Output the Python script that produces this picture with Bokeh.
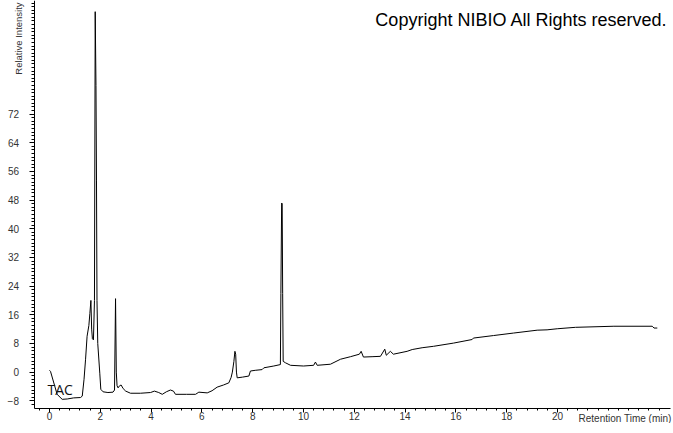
import math
from bokeh.plotting import figure
from bokeh.models import Range1d, FixedTicker, Label
from bokeh.embed import file_html
from bokeh.resources import INLINE

# Retention time (min) and relative intensity
rt = [0.00, 0.04, 0.30, 0.50, 0.70, 0.95, 1.22, 1.29, 1.36, 1.42, 1.48, 1.55, 1.59, 1.63,
      1.66, 1.69, 1.73, 1.77, 1.80, 1.83, 1.85, 1.87, 1.90, 1.98, 2.02, 2.11, 2.30, 2.50,
      2.56, 2.60, 2.63, 2.66, 2.70, 2.76, 2.82, 2.90, 3.00, 3.19, 3.58, 3.98, 4.13, 4.30,
      4.44, 4.60, 4.76, 4.88, 4.96, 5.40, 5.75, 5.88, 6.21, 6.40, 6.60, 6.85, 7.06, 7.15,
      7.20, 7.26, 7.30, 7.33, 7.36, 7.39, 7.60, 7.85, 7.91, 8.10, 8.37, 8.44, 8.83, 9.09,
      9.11, 9.14, 9.16, 9.18, 9.20, 9.29, 9.49, 10.00, 10.40, 10.47, 10.54, 11.06, 11.46,
      11.85, 12.20, 12.27, 12.36, 12.70, 13.03, 13.20, 13.26, 13.42, 13.54, 14.08, 14.28,
      14.67, 15.12, 15.91, 16.64, 16.69, 17.48, 18.27, 19.20, 19.59, 19.99, 20.71, 22.22,
      23.73, 23.80, 23.93]
intensity = [0.5, 0.2, -6.2, -7.6, -7.5, -7.2, -7.1, -6.7, -2.0, 3.6, 10.0, 13.0, 16.4, 20.0,
             12.0, 9.3, 9.0, 20.0, 100.6, 80.0, 53.6, 20.0, 8.0, -0.3, -4.8, -5.5, -5.7, -5.6,
             -5.0, 20.5, 0.0, -3.8, -4.4, -3.8, -3.6, -4.6, -5.3, -5.9, -5.9, -5.7, -5.3, -5.7,
             -6.2, -5.5, -5.0, -5.3, -6.2, -6.2, -6.2, -5.6, -5.8, -5.2, -4.2, -3.6, -3.0, -1.5,
             0.0, 3.0, 5.8, 5.0, 0.0, -1.6, -1.4, -1.1, 0.3, 0.5, 0.7, 1.2, 1.7, 2.1,
             22.0, 47.2, 47.0, 22.0, 3.0, 2.6, 1.9, 1.7, 1.9, 2.8, 1.9, 2.2, 3.6,
             4.3, 5.0, 5.8, 4.2, 4.3, 4.4, 6.4, 4.7, 5.8, 5.0, 5.8, 6.3,
             6.8, 7.2, 8.1, 9.1, 9.5, 10.2, 10.9, 11.7, 11.8, 12.1, 12.5, 12.8,
             12.8, 12.3, 12.3]

x_major = [0, 2, 4, 6, 8, 10, 12, 14, 16, 18, 20]
x_minor = [round(-0.4 + 0.4 * i, 2) for i in range(62)]
y_major = [-8, 0, 8, 16, 24, 32, 40, 48, 56, 64, 72]
y_minor = list(range(-9, 104))

FONT = "Liberation Sans"
X_AXIS_AT = -10.02   # intensity where the time axis sits
Y_AXIS_AT = -0.61    # time where the intensity axis sits
X_END = 24.45
Y_END = 103.7

p = figure(width=672, height=423, output_backend="svg", toolbar_location=None,
           x_range=Range1d(-1.929, 24.528), y_range=Range1d(-14.345, 103.72),
           min_border_left=0, min_border_right=0, min_border_top=0, min_border_bottom=0)
p.outline_line_color = None
p.grid.visible = False
p.background_fill_color = "white"
p.border_fill_color = "white"

p.line(rt, intensity, line_color="black", line_width=1)

xa, ya = p.xaxis[0], p.yaxis[0]
xa.fixed_location = X_AXIS_AT
ya.fixed_location = Y_AXIS_AT
xa.bounds = (Y_AXIS_AT, X_END)
ya.bounds = (X_AXIS_AT, Y_END)
for ax, major, minor in ((xa, x_major, x_minor), (ya, y_major, y_minor)):
    ax.ticker = FixedTicker(ticks=major, minor_ticks=minor)
    ax.axis_line_color = "black"
    ax.axis_line_width = 1
    ax.major_tick_line_color = "black"
    ax.minor_tick_line_color = "black"
    ax.major_tick_in = 0
    ax.minor_tick_in = 0
    ax.major_tick_out = 5
    ax.minor_tick_out = 3
    ax.major_label_text_font = FONT
    ax.major_label_text_font_size = "10px"
    ax.major_label_text_color = "#333333"
xa.major_tick_out = 4
xa.minor_tick_out = 2
xa.major_label_standoff = 0
ya.major_label_standoff = 10

p.add_layout(Label(x=24.33, y=98.2, text="Copyright NIBIO All Rights reserved.",
                   text_align="right", text_baseline="alphabetic", text_font=FONT,
                   text_font_size="18px", text_color="black"))
p.add_layout(Label(x=-1.24, y=83.0, text="Relative Intensity", angle=math.pi / 2,
                   text_align="left", text_baseline="middle", text_font=FONT,
                   text_font_size="9.5px", text_color="#333333"))
p.add_layout(Label(x=24.49, y=-13.0, text="Retention Time (min)", text_align="right",
                   text_baseline="alphabetic", text_font=FONT, text_font_size="10px",
                   text_color="#333333"))
p.add_layout(Label(x=-0.08, y=-4.8, text="TAC", text_align="left", text_baseline="middle",
                   text_font="Open Sans", text_font_size="14px", text_color="#111111"))

open("out.html", "w").write(file_html(p, INLINE))
